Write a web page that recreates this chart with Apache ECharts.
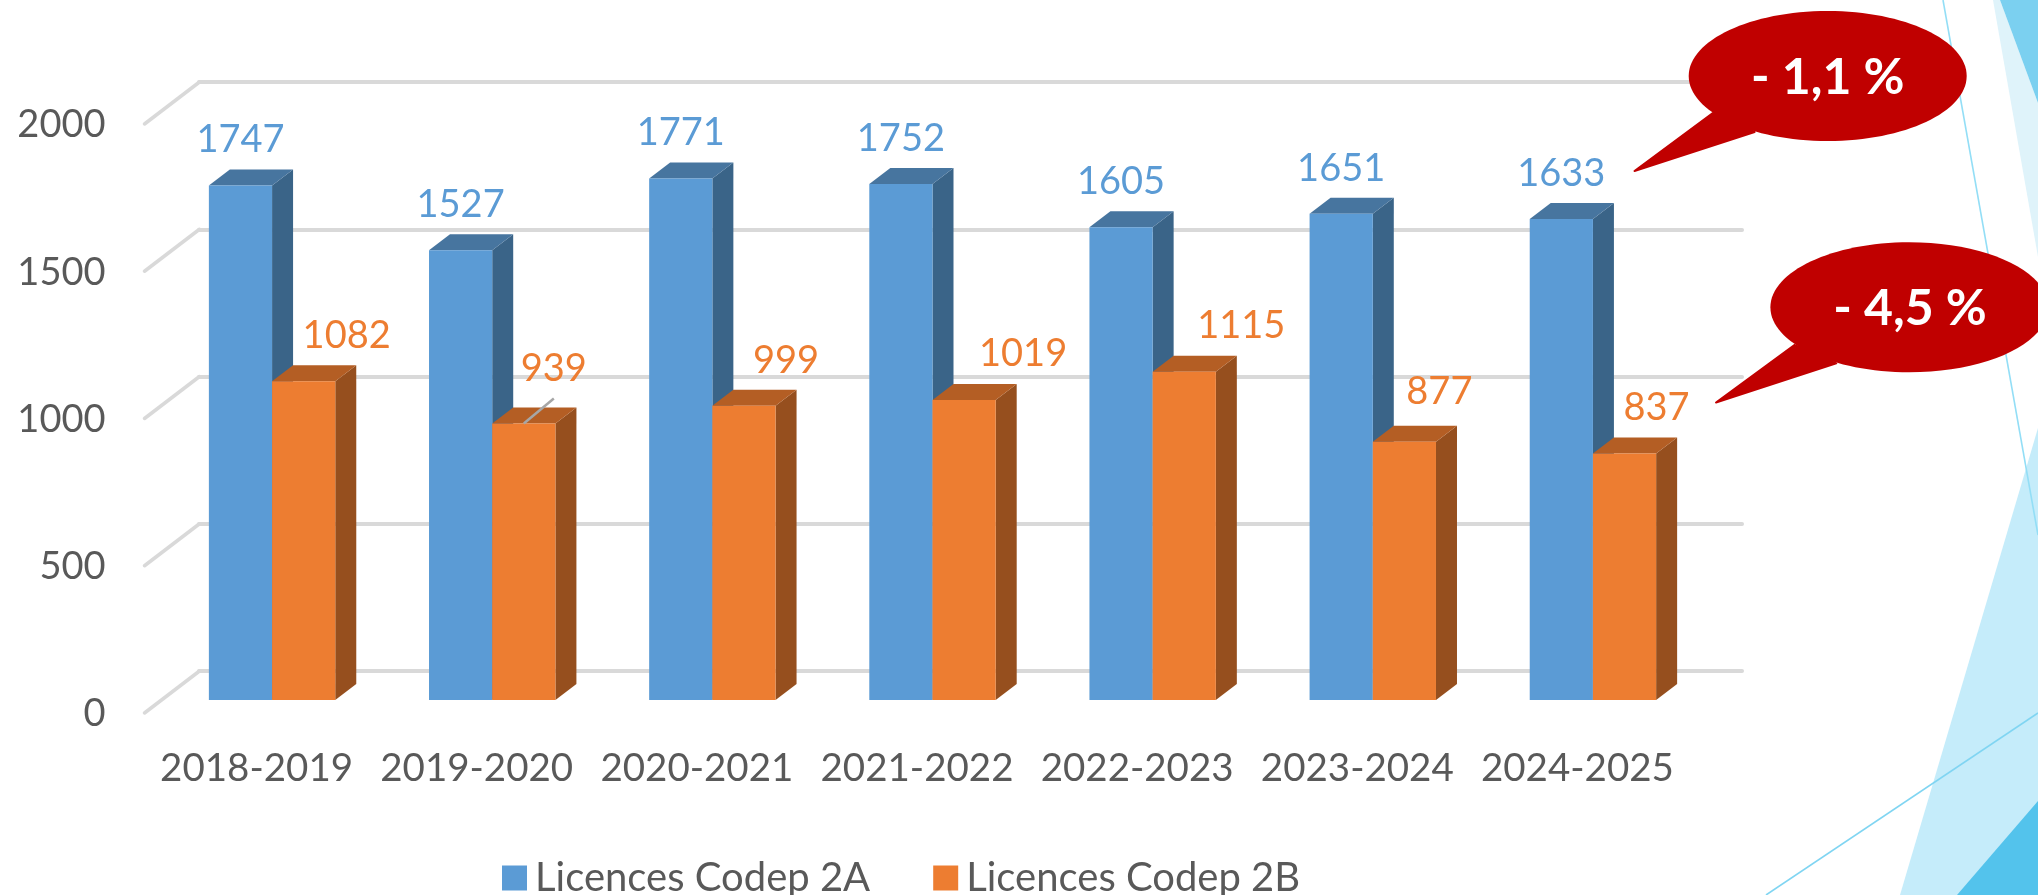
<!DOCTYPE html>
<html>
<head>
<meta charset="utf-8">
<style>html,body{margin:0;padding:0;background:#fff}#c{width:2038px;height:895px}</style>
<script src="https://cdn.jsdelivr.net/npm/echarts@6/dist/echarts.min.js"></script>
</head>
<body>
<div id="c"></div>
<script>
const categories = ['2018-2019','2019-2020','2020-2021','2021-2022','2022-2023','2023-2024','2024-2025'];
const licences2A = [1747,1527,1771,1752,1605,1651,1633];
const licences2B = [1082,939,999,1019,1115,877,837];
const yTicks = [0,500,1000,1500,2000];
const callout1A = '- 1,1 %';
const callout1B = '- 4,5 %';

// layout-only (manually placed labels in the original)
const orangeLabelDx = [43,30,42,59,57,35,32];
const orangeLabelDy = [-46,-55,-45,-46,-46,-50,-46];
const blueLabelDy = -45.5;
const BAR_W = 63.2, DEPTH_X = 21, DEPTH_Y = 16;
const FONT = 'Lato';
const TEXT = '#595959';

function bar3d(colors, isFirst, labelFn) {
  return function (params, api) {
    const i = api.value(0), v = api.value(1);
    const top = api.coord([i, v]);
    const base = api.coord([i, 0]);
    const x = isFirst ? top[0] - BAR_W : top[0];
    const y = top[1], y0 = base[1], w = BAR_W;
    const children = [
      {type:'polygon',shape:{points:[[x+w,y],[x+w+DEPTH_X,y-DEPTH_Y],[x+w+DEPTH_X,y0-DEPTH_Y],[x+w,y0]]},style:{fill:colors[2]}},
      {type:'polygon',shape:{points:[[x,y],[x+DEPTH_X,y-DEPTH_Y],[x+w+DEPTH_X,y-DEPTH_Y],[x+w,y]]},style:{fill:colors[1]}},
      {type:'rect',shape:{x:x,y:y,width:w,height:y0-y},style:{fill:colors[0]}}
    ];
    labelFn(children, i, v, x + w/2, y, colors[0]);
    return {type:'group',children:children};
  };
}
function txt(children, s, x, y, color) {
  children.push({type:'text',z2:50,style:{text:String(s),x:x,y:y,align:'center',verticalAlign:'middle',
    fill:color,font:'38px '+FONT}});
}

const option = {
  backgroundColor:'#ffffff',
  animation:false,
  legend:{
    left:502, top:858, padding:0, itemWidth:25, itemHeight:25, itemGap:63, icon:'rect',
    data:['Licences Codep 2A','Licences Codep 2B'],
    textStyle:{fontFamily:FONT,fontSize:40,color:TEXT,padding:[0,0,0,3]}
  },
  grid:[
    {left:146.5,width:1541,top:125,height:589},   // front floor plane: axis labels
    {left:199,width:1543,top:82,height:589},      // back wall: gridlines
    {left:162,width:1541,top:111,height:589}      // bar plane
  ],
  xAxis:[
    {type:'category',gridIndex:0,data:categories,axisLine:{show:false},axisTick:{show:false},
      axisLabel:{interval:0,color:TEXT,fontFamily:FONT,fontSize:38.5,margin:35}},
    {type:'category',gridIndex:1,data:categories,axisLine:{show:false},axisTick:{show:false},axisLabel:{show:false}},
    {type:'category',gridIndex:2,data:categories,axisLine:{show:false},axisTick:{show:false},axisLabel:{show:false}}
  ],
  yAxis:[
    {type:'value',gridIndex:0,min:0,max:2000,interval:500,splitLine:{show:false},axisLine:{show:false},axisTick:{show:false},
      axisLabel:{color:TEXT,fontFamily:FONT,fontSize:38,margin:41,formatter:function(v){return String(v);}}},
    {type:'value',gridIndex:1,min:0,max:2000,interval:500,axisLine:{show:false},axisTick:{show:false},axisLabel:{show:false},
      splitLine:{show:true,lineStyle:{color:'#D9D9D9',width:4,cap:'round'}}},
    {type:'value',gridIndex:2,min:0,max:2000,interval:500,splitLine:{show:false},axisLine:{show:false},axisTick:{show:false},axisLabel:{show:false}}
  ],
  series:[
    {
      type:'custom',name:'floor',xAxisIndex:0,yAxisIndex:0,z:1,silent:true,
      data:yTicks.map(t=>[0,t]),
      renderItem:function(params,api){
        const c=api.coord([0,api.value(1)]);
        const x=params.coordSys.x-2;
        return {type:'polyline',shape:{points:[[x,c[1]-1],[x+55,c[1]-43]]},style:{stroke:'#D9D9D9',lineWidth:3.5,lineCap:'round',fill:null}};
      }
    },
    {
      type:'custom',name:'Licences Codep 2A',xAxisIndex:2,yAxisIndex:2,z:3,
      itemStyle:{color:'#5B9BD5'},
      data:licences2A.map((v,i)=>[i,v]),
      renderItem:bar3d(['#5B9BD5','#47759F','#3A6488'],true,function(ch,i,v,cx,y,col){
        txt(ch,v,cx,y+blueLabelDy,col);
      })
    },
    {
      type:'custom',name:'Licences Codep 2B',xAxisIndex:2,yAxisIndex:2,z:4,
      itemStyle:{color:'#ED7D31'},
      data:licences2B.map((v,i)=>[i,v]),
      renderItem:bar3d(['#ED7D31','#B45E24','#964F1E'],false,function(ch,i,v,cx,y,col){
        if(i===1){
          ch.push({type:'line',z2:40,shape:{x1:cx,y1:y,x2:cx+30,y2:y-25},style:{stroke:'#A6A6A6',lineWidth:2.5}});
        }
        txt(ch,v,cx+orangeLabelDx[i],y+orangeLabelDy[i],col);
      })
    }
  ],
  graphic:{elements:[
    {type:'polygon',z:-5,silent:true,shape:{points:[[1993,0],[2038,257],[2038,103],[2000,0]]},style:{fill:'#DFF3FA'}},
    {type:'polygon',z:-5,silent:true,shape:{points:[[2000,0],[2038,103],[2038,0]]},style:{fill:'#7BD0F0'}},
    {type:'polygon',z:-5,silent:true,shape:{points:[[1900,895],[2038,428],[2038,895]]},style:{fill:'#C5ECFA'}},
    {type:'polygon',z:-4,silent:true,shape:{points:[[1957,895],[2038,801],[2038,895]]},style:{fill:'#53C3EC'}},
    {type:'line',z:-3,silent:true,shape:{x1:1943,y1:0,x2:2038,y2:535},style:{stroke:'#93DEF6',lineWidth:1.6}},
    {type:'line',z:-3,silent:true,shape:{x1:1766,y1:895,x2:2038,y2:713},style:{stroke:'#80D5F2',lineWidth:1.6}},

    {type:'polygon',z:20,silent:true,shape:{points:[[1634.5,171],[1712.8,113],[1754.6,132]]},style:{fill:'#C00000',stroke:'#C00000',lineWidth:2,lineJoin:'round'}},
    {type:'ellipse',z:20,silent:true,shape:{cx:1827.7,cy:76,rx:139,ry:65},style:{fill:'#C00000'}},
    {type:'text',z:21,silent:true,style:{text:callout1A,x:1827.7,y:78,align:'center',verticalAlign:'middle',fill:'#fff',font:'bold 50px '+FONT}},

    {type:'polygon',z:20,silent:true,shape:{points:[[1716,402.5],[1794.4,345],[1836.3,363.3]]},style:{fill:'#C00000',stroke:'#C00000',lineWidth:2,lineJoin:'round'}},
    {type:'ellipse',z:20,silent:true,shape:{cx:1909.4,cy:307.3,rx:139,ry:65},style:{fill:'#C00000'}},
    {type:'text',z:21,silent:true,style:{text:callout1B,x:1910,y:309,align:'center',verticalAlign:'middle',fill:'#fff',font:'bold 50px '+FONT}}
  ]}
};
const chart = echarts.init(document.getElementById('c'));
chart.setOption(option);
</script>
</body>
</html>
